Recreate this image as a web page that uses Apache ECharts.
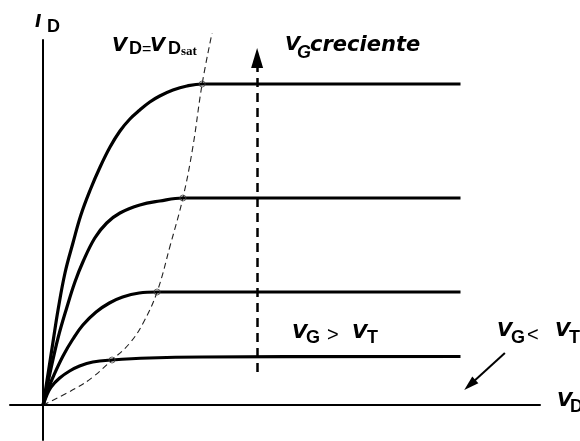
<!DOCTYPE html>
<html>
<head>
<meta charset="utf-8">
<script src="https://cdn.jsdelivr.net/npm/echarts@6/dist/echarts.min.js"></script>
<style>
  html, body { margin: 0; padding: 0; background: #fff; }
  #chart { width: 580px; height: 441px; }
</style>
</head>
<body>
<div id="chart"></div>
<script>
// Output characteristics of a MOSFET: I_D versus V_D for rising V_G (arbitrary units)

// Rising (linear/triode) part of each curve, before saturation
const riseTop = [[0, 0], [0.074, 0.31], [0.149, 0.63], [0.225, 0.95], [0.33, 1.32], [0.45, 1.62], [0.57, 1.9], [0.71, 2.15], [0.86, 2.38], [1.01, 2.58], [1.16, 2.74], [1.31, 2.86], [1.46, 2.95], [1.61, 3.03], [1.76, 3.09], [1.96, 3.15], [2.17, 3.19]];
const riseSecond = [[0, 0], [0.104, 0.32], [0.225, 0.67], [0.36, 0.98], [0.48, 1.23], [0.6, 1.43], [0.78, 1.67], [0.96, 1.82], [1.16, 1.92], [1.46, 2.0], [1.76, 2.04]];
const riseThird = [[0, 0], [0.07, 0.15], [0.15, 0.28], [0.3, 0.49], [0.45, 0.66], [0.6, 0.8], [0.8, 0.93], [1.0, 1.02], [1.2, 1.08], [1.45, 1.12]];
const riseBottom = [[0, 0], [0.05, 0.09], [0.12, 0.18], [0.25, 0.27], [0.4, 0.34], [0.55, 0.39], [0.75, 0.43]];

// Saturation points (V_Dsat, I_Dsat) of each curve, top to bottom
const satV = [2.4, 2.11, 1.72, 1.04];
const satI = [3.21, 2.07, 1.13, 0.45];

// Saturated part after the knee (bottom curve keeps a slight slope)
const flatBottom = [[1.6, 0.47], [2.4, 0.48], [6.3, 0.485]];
const vEnd = 6.3;

// Locus V_D = V_Dsat
const satLocus = [[0, 0], [0.5, 0.17], [0.75, 0.28], [1.04, 0.45], [1.31, 0.62], [1.51, 0.82], [1.72, 1.13], [1.92, 1.6], [2.11, 2.07], [2.26, 2.58], [2.4, 3.21], [2.55, 3.72]];

// Annotation arrows: "V_G creciente" and "V_G < V_T"
const arrowRise = [[3.23, 0.33], [3.23, 3.47]];
const arrowOff = [[6.97, 0.52], [6.44, 0.2]];

const curves = [
  riseTop.concat([[satV[0], satI[0]], [vEnd, satI[0]]]),
  riseSecond.concat([[satV[1], satI[1]], [vEnd, satI[1]]]),
  riseThird.concat([[satV[2], satI[2]], [vEnd, satI[2]]]),
  riseBottom.concat([[satV[3], satI[3]]], flatBottom)
];

const SANS = 'DejaVu Sans';
const ARIAL = 'Liberation Sans';
function txt(x, y, text, size, opts) {
  opts = opts || {};
  return {
    type: 'text', x: x, y: y, silent: true,
    style: {
      text: text, fill: '#000',
      fontFamily: opts.family || SANS,
      fontSize: size,
      fontWeight: opts.weight || 'bold',
      fontStyle: opts.italic ? 'italic' : 'normal',
      align: 'left', verticalAlign: 'middle'
    }
  };
}
const V = (x, y) => txt(x, y, 'V', 19.5, { italic: true });
const sub = (x, y, s, italic) => txt(x, y, s, 18, { italic: italic, family: ARIAL });

const chart = echarts.init(document.getElementById('chart'), null, { renderer: 'canvas' });

const curveSeries = curves.map(d => ({
  type: 'line', data: d, showSymbol: false, smooth: 0.4,
  lineStyle: { color: '#000', width: 3.2, join: 'round' }, z: 3, silent: true
}));

chart.setOption({
  animation: false,
  grid: { left: 10, right: 40, top: 40, bottom: 1 },
  xAxis: {
    type: 'value', min: -0.5, max: 7.5,
    axisLine: { show: true, onZero: true, lineStyle: { color: '#000', width: 2 } },
    axisTick: { show: false }, axisLabel: { show: false }, splitLine: { show: false }
  },
  yAxis: {
    type: 'value', min: -0.35, max: 3.65,
    axisLine: { show: true, onZero: true, lineStyle: { color: '#000', width: 2 } },
    axisTick: { show: false }, axisLabel: { show: false }, splitLine: { show: false }
  },
  series: curveSeries.concat([
    {
      type: 'line', data: satLocus, showSymbol: false, smooth: 0.4, clip: false, silent: true,
      lineStyle: { color: '#222', width: 1.1, type: [6, 4] }, z: 2
    },
    {
      type: 'scatter', data: satV.map((v, i) => [v, satI[i]]), symbol: 'circle', symbolSize: 6,
      itemStyle: { color: 'rgba(0,0,0,0)', borderColor: '#444', borderWidth: 1 }, z: 5, silent: true
    },
    {
      type: 'line', data: [], silent: true,
      markLine: {
        silent: true, animation: false,
        label: { show: false },
        emphasis: { disabled: true },
        data: [
          [{ coord: arrowRise[0], symbol: 'none', lineStyle: { type: [9, 6], width: 2.5, color: '#000' } },
           { coord: arrowRise[1], symbol: 'triangle', symbolSize: [12, 20] }],
          [{ coord: arrowOff[0], symbol: 'none', lineStyle: { type: 'solid', width: 2, color: '#000' } },
           { coord: arrowOff[1], symbol: 'triangle', symbolSize: [9, 15] }]
        ],
        itemStyle: { color: '#000' }
      }
    }
  ]),
  graphic: [
    txt(35, 23, 'I', 17, { italic: true }),
    sub(47, 27, 'D'),
    V(112, 45.5), sub(129, 49.5, 'D'),
    txt(142, 49.5, '=', 16, { weight: 'normal', family: ARIAL }),
    V(150, 45.5), sub(168, 49.5, 'D'),
    txt(181, 52, 'sat', 13, { family: 'Liberation Serif' }),
    V(285, 44.5), sub(297, 53.5, 'G', true),
    txt(310, 46, 'creciente', 21, { italic: true }),
    V(292, 332.5), sub(306, 338.5, 'G'),
    txt(327, 335, '>', 20, { weight: 'normal', family: ARIAL }),
    V(352, 332.5), sub(367, 338.5, 'T'),
    V(497, 330.5), sub(511, 338.5, 'G'),
    txt(527, 335, '<', 20, { weight: 'normal', family: ARIAL }),
    V(555, 330.5), sub(569, 338.5, 'T'),
    V(557, 400.5), sub(570, 407, 'D')
  ]
});
</script>
</body>
</html>
